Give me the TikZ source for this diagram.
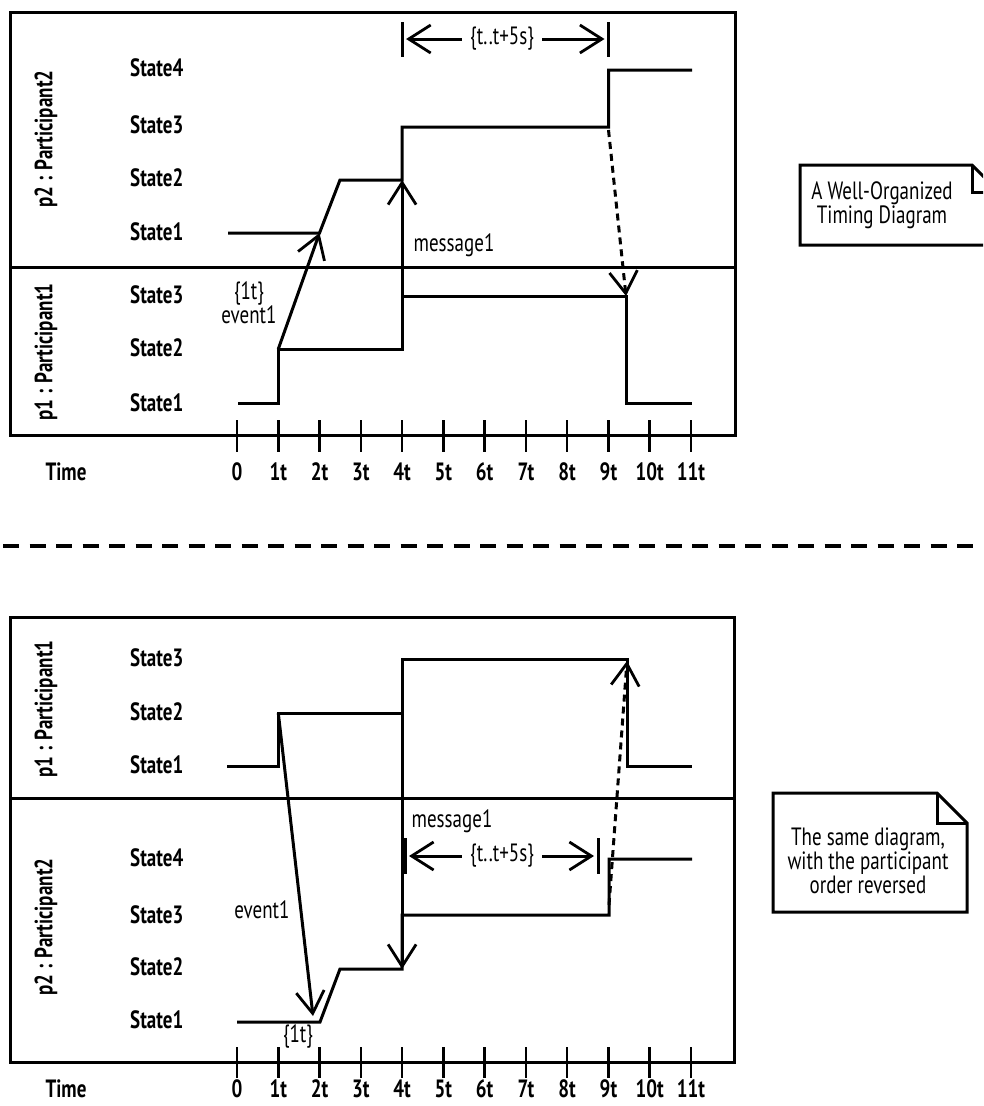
\documentclass[tikz,border=0pt]{standalone}
\usepackage{fontspec}
\setmainfont{PT Sans}[FakeStretch=0.76]
\usepackage{tikz}
\usetikzlibrary{arrows.meta,positioning,calc}
\tikzset{
  frame/.style={line width=3pt},
  wave/.style={line width=3pt, line join=miter},
  tickmark/.style={line width=2.6pt},
  msg/.style={line width=3pt, -{Straight Barb[length=22pt,width=28pt,line width=2.8pt]}},
  dotmsg/.style={msg, dash pattern=on 7pt off 5pt},
  cbar/.style={line width=3pt},
  sepline/.style={line width=4pt, dash pattern=on 16pt off 10.5pt},
  statelbl/.style={anchor=west, inner sep=0pt, font=\fontsize{25}{28}\selectfont\bfseries},
  partlbl/.style={rotate=90, inner sep=0pt, font=\fontsize{25}{28}\selectfont\bfseries},
  ticklbl/.style={inner sep=0pt, font=\fontsize{25}{28}\selectfont\bfseries},
  msglbl/.style={inner sep=0pt, align=center, font=\fontsize{25}{24}\selectfont},
  cstlbl/.style={inner sep=8pt, font=\fontsize{25}{28}\selectfont},
  notebox/.style={draw=none, inner sep=0pt, outer sep=0pt},
  notetext/.style={inner sep=0pt, align=center, font=\fontsize{25}{24}\selectfont},
}
% dog-eared note: name, centre, width, height, fold
\newcommand{\dognote}[5]{%
  \node[notebox, minimum width=#3, minimum height=#4] (#1) at (#2) {};
  \draw[frame] (#1.north west) -- ([xshift=-#5]#1.north east)
    -- ([yshift=-#5]#1.north east) -- (#1.south east) -- (#1.south west) -- cycle;
  \draw[frame] ([xshift=-#5]#1.north east) -- ([xshift=-#5,yshift=-#5]#1.north east)
    -- ([yshift=-#5]#1.north east);
}

\begin{document}
\begin{tikzpicture}[x=1pt, y=-1pt, >=Stealth]
  \useasboundingbox (0,0) rectangle (983,1106);
  \clip (0,0) rectangle (983,1106);

  % time axes
  \foreach \i/\l in {0/0,1/1t,2/2t,3/3t,4/4t,5/5t,6/6t,7/7t,8/8t,9/9t,10/10t,11/11t} {
    \coordinate (ta\i) at ({237+41.27*\i},435);
    \coordinate (tb\i) at ({237+41.27*\i},1062);
    \draw[tickmark] (ta\i) ++(0,-15) -- ++(0,32);
    \draw[tickmark] (tb\i) ++(0,-15) -- ++(0,31);
    \node[ticklbl] (tla\i) at ([yshift=-37pt]ta\i) {\l};
    \node[ticklbl] (tlb\i) at ([yshift=-27pt]tb\i) {\l};
  }

  %%% upper diagram
  \draw[frame] (10,12) rectangle (735,435);
  \draw[frame] (10,267) -- (735,267);
  \node[ticklbl] (timeA) at (66,472) {Time};
  \node[partlbl] (pA2) at (46,139) {p2 : Participant2};
  \node[partlbl] (pA1) at (46,352) {p1 : Participant1};
  \node[statelbl] (sA24) at (130,68) {State4};
  \node[statelbl] (sA23) at (130,125) {State3};
  \node[statelbl] (sA22) at (130,178) {State2};
  \node[statelbl] (sA21) at (130,232) {State1};
  \node[statelbl] (sA13) at (130,295) {State3};
  \node[statelbl] (sA12) at (130,348) {State2};
  \node[statelbl] (sA11) at (130,403) {State1};

  \draw[wave] (228,233) -- (319.5,233) -- (340,180) -- (402.1,180) -- (402.1,127)
    -- (608.5,127) -- (608.5,70) -- (692,70);
  \draw[wave] (238,403) -- (278.3,403) -- (278.3,349) -- (402.1,349) -- (402.1,296)
    -- (626,296) -- (626,403) -- (692,403);

  \coordinate (evA1) at (278.3,349);
  \coordinate (evA2) at (319.5,233);
  \coordinate (msA1) at (402.1,349);
  \coordinate (msA2) at (402.1,180);
  \coordinate (dtA1) at (608.5,130);
  \coordinate (dtA2) at (626,296);
  \draw[msg] (evA1) -- (evA2);
  \draw[msg] (msA1) -- (msA2);
  \draw[dotmsg] (dtA1) -- (dtA2);
  \node[msglbl] (evlA) at (249,303) {\{1t\}\\event1};
  \node[msglbl] (mslA) at (454,245) {message1};

  \coordinate (cbA1) at (402.1,22);
  \coordinate (cbA2) at (608.5,22);
  \draw[cbar] (cbA1) -- ++(0,35);
  \draw[cbar] (cbA2) -- ++(0,35);
  \node[cstlbl] (cstA) at (502,39) {\{t..t+5s\}};
  \draw[msg] (cstA.west) -- ([xshift=4pt,yshift=-17pt]cbA1);
  \draw[msg] (cstA.east) -- ([xshift=-4pt,yshift=-17pt]cbA2);

  \dognote{noteA}{899.5,205}{199pt}{80pt}{27pt}
  \node[notetext] (noteAtxt) at (882,205) {A Well-Organized\\Timing Diagram};

  \draw[sepline] (3,546) -- (983,546);

  %%% lower diagram
  \draw[frame] (10,617) rectangle (734,1062);
  \draw[frame] (10,798) -- (734,798);
  \node[ticklbl] (timeB) at (66,1089) {Time};
  \node[partlbl] (pB1) at (46,709) {p1 : Participant1};
  \node[partlbl] (pB2) at (46,927) {p2 : Participant2};
  \node[statelbl] (sB13) at (130,658) {State3};
  \node[statelbl] (sB12) at (130,712) {State2};
  \node[statelbl] (sB11) at (130,765) {State1};
  \node[statelbl] (sB24) at (130,858) {State4};
  \node[statelbl] (sB23) at (130,915) {State3};
  \node[statelbl] (sB22) at (130,967) {State2};
  \node[statelbl] (sB21) at (130,1020) {State1};

  \draw[wave] (227,766) -- (278.3,766) -- (278.3,713) -- (402.1,713) -- (402.1,659)
    -- (627,659) -- (627,766) -- (692,766);
  \draw[wave] (237,1022) -- (320,1022) -- (340,969) -- (402.1,969) -- (402.1,915)
    -- (609,915) -- (609,859) -- (692,859);

  \coordinate (evB1) at (278.3,713);
  \coordinate (evB2) at (313,1016);
  \coordinate (msB1) at (402.1,713);
  \coordinate (msB2) at (402.1,969);
  \coordinate (dtB1) at (609,905);
  \coordinate (dtB2) at (627,661);
  \draw[msg] (evB1) -- (evB2);
  \draw[msg] (msB1) -- (msB2);
  \draw[dotmsg] (dtB1) -- (dtB2);
  \node[msglbl] (evlB) at (262,910) {event1};
  \node[msglbl] (tlB) at (298,1036) {\{1t\}};
  \node[msglbl] (mslB) at (452,821) {message1};

  \coordinate (cbB1) at (405,838);
  \coordinate (cbB2) at (598,838);
  \draw[cbar] (cbB1) -- ++(0,36);
  \draw[cbar] (cbB2) -- ++(0,36);
  \node[cstlbl] (cstB) at (502,856) {\{t..t+5s\}};
  \draw[msg] (cstB.west) -- ([xshift=4pt,yshift=-18pt]cbB1);
  \draw[msg] (cstB.east) -- ([xshift=-4pt,yshift=-18pt]cbB2);

  \dognote{noteB}{870,852.5}{194pt}{119pt}{30pt}
  \node[notetext] (noteBtxt) at (868,861) {The same diagram,\\with the participant\\order reversed};
\end{tikzpicture}
\end{document}
